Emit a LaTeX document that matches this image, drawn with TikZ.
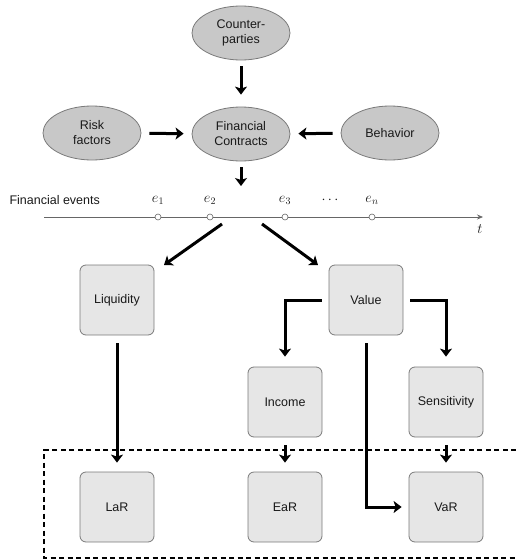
\documentclass[tikz,border=0pt]{standalone}
\usepackage{fontspec}
\setmainfont{Liberation Sans}
\usetikzlibrary{arrows.meta,shapes.geometric}
\definecolor{ellfill}{HTML}{C8C8C8}
\definecolor{boxfill}{HTML}{E6E6E6}
\definecolor{edge}{HTML}{7A7A7A}
\begin{document}
\begin{tikzpicture}[x=1pt,y=-1pt,
  every node/.style={font=\fontsize{12.5}{15}\selectfont, text=black!90},
  ell/.style={ellipse, draw=edge, line width=0.8pt, fill=ellfill, minimum width=98pt, minimum height=54pt, inner sep=0pt, align=center},
  box/.style={rectangle, rounded corners=6pt, draw=edge, line width=0.8pt, fill=boxfill, minimum width=74pt, minimum height=70pt, inner sep=0pt, align=center},
  arr/.style={line width=3pt, -{Stealth[length=8pt,width=12pt,inset=2pt]}},
  tl/.style={draw=black!60, line width=0.7pt},
  evt/.style={circle, draw=black!60, fill=white, line width=0.6pt, minimum size=6pt, inner sep=0pt},
  lab/.style={font=\fontsize{14}{16}\selectfont}
]
\useasboundingbox (0,0) rectangle (515,560);

% ellipses
\node[ell] (cp) at (241,33) {Counter-\\parties};
\node[ell] (fc) at (241,134) {Financial\\Contracts};
\node[ell] (rf) at (92,133) {Risk\\factors};
\node[ell] (bh) at (390,133) {Behavior};

\draw[arr, shorten <=6pt, shorten >=12pt] (cp) -- (fc);
\draw[arr, shorten <=8pt, shorten >=8pt] (rf) -- (fc);
\draw[arr, shorten <=8pt, shorten >=8pt] (bh) -- (fc);
\coordinate (fcend) at (241,186);
\draw[arr, shorten <=6pt] (fc) -- (fcend);

% timeline
\node[anchor=west] (fe) at (6,200) {Financial events};
\coordinate (t0) at (44,217);
\coordinate (t1) at (483,217);
\draw[tl, -{Stealth[length=6pt,width=5pt]}] (t0) -- (t1);
\node[lab] (tlab) at (480,229) {$t$};
\node[evt] (e1) at (158,217) {};
\node[evt] (e2) at (210,217) {};
\node[evt] (e3) at (285,217) {};
\node[evt] (en) at (372,217) {};
\node[lab] (le1) at (158,200) {$e_1$};
\node[lab] (le2) at (210,200) {$e_2$};
\node[lab] (le3) at (285,200) {$e_3$};
\node[lab] (ldots) at (330,200) {$\cdots$};
\node[lab] (len) at (372,200) {$e_n$};

% boxes
\node[box] (liq) at (117,300) {Liquidity};
\node[box] (val) at (366,300) {Value};
\node[box] (inc) at (285,402) {Income};
\node[box] (sen) at (446,402) {Sensitivity};
\node[box] (lar) at (117,507) {LaR};
\node[box] (ear) at (285,507) {EaR};
\node[box] (var) at (446,507) {VaR};

\coordinate (s1) at (222,224);
\coordinate (d1) at (164,265);
\coordinate (s2) at (262,224);
\coordinate (d2) at (318,265);
\draw[arr] (s1) -- (d1);
\draw[arr] (s2) -- (d2);

\draw[arr, shorten <=8pt, shorten >=9pt] (liq) -- (lar);
\draw[arr, shorten <=7pt, shorten >=10pt] (val.west) -| (inc.north);
\draw[arr, shorten <=7pt, shorten >=10pt] (val.east) -| (sen.north);
\draw[arr, shorten <=8pt, shorten >=9pt] (inc) -- (ear);
\draw[arr, shorten <=8pt, shorten >=9pt] (sen) -- (var);
\draw[arr, shorten <=8pt, shorten >=7pt] (val.south) |- (var.west);

% dashed region
\coordinate (dtr) at (516,450);
\coordinate (dbr) at (516,558);
\draw[line width=1.8pt, dash pattern=on 5pt off 3.5pt] (dtr) -| (44,558) -- (dbr);
\end{tikzpicture}
\end{document}
